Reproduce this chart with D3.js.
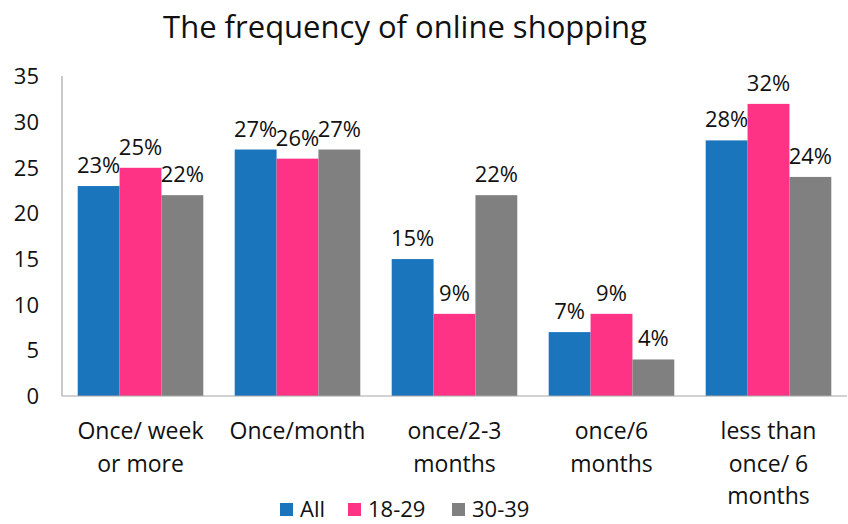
<!DOCTYPE html>
<html><head><meta charset="utf-8">
<script src="https://cdn.jsdelivr.net/npm/d3@7"></script>
<style>body{margin:0;background:#fff}svg{display:block}text{font-family:"Open Sans",sans-serif;fill:#111}</style>
</head><body><svg id="c" width="848" height="524"></svg>
<script>
const categories = [["Once/ week","or more"],["Once/month"],["once/2-3","months"],["once/6","months"],["less than","once/ 6","months"]];
const seriesNames = ["All","18-29","30-39"];
const seriesColors = ["#1b75bc","#fe3386","#808080"];
const valuesAll = [23,27,15,7,28];
const values1829 = [25,26,9,9,32];
const values3039 = [22,27,22,4,24];
const yTicks = [0,5,10,15,20,25,30,35];
const title = "The frequency of online shopping";

const series = [valuesAll, values1829, values3039];
const svg = d3.select("#c");
const x0 = d3.scaleBand().domain(d3.range(categories.length)).range([62,847]).paddingInner(0.2).paddingOuter(0.1);
const x = d3.scaleBand().domain(d3.range(3)).range([0, x0.bandwidth()]);
const y = d3.scaleLinear().domain([0,35]).range([396,76.5]);

svg.append("text").attr("x",405).attr("y",38).attr("text-anchor","middle").style("font-size","31px").text(title);

// y tick labels
svg.selectAll(".yt").data(yTicks).join("text").attr("x",39).attr("y",d=>y(d)).attr("dy","0.36em")
  .attr("text-anchor","end").style("font-size","22px").text(d=>d);

// bars
const g = svg.selectAll(".grp").data(categories).join("g").attr("transform",(d,i)=>`translate(${x0(i)},0)`);
series.forEach((vals,s)=>{
  g.append("rect").attr("x",x(s)).attr("width",x.bandwidth()).attr("y",(d,i)=>y(vals[i])).attr("height",(d,i)=>396-y(vals[i])).attr("fill",seriesColors[s]);
  g.append("text").attr("x",x(s)+x.bandwidth()/2).attr("y",(d,i)=>y(vals[i])-13).attr("text-anchor","middle").style("font-size","22px").text((d,i)=>vals[i]+"%");
});

// axes lines
svg.append("line").attr("x1",62).attr("x2",62).attr("y1",76).attr("y2",396).attr("stroke","#a6a6a6").attr("stroke-width",1.2);
svg.append("line").attr("x1",62).attr("x2",847).attr("y1",396).attr("y2",396).attr("stroke","#a6a6a6").attr("stroke-width",1.2);

// category labels
categories.forEach((lines,i)=>{
  const t = svg.append("text").attr("x",x0(i)+x0.bandwidth()/2).attr("y",439).attr("text-anchor","middle").style("font-size","23px");
  lines.forEach((l,j)=>t.append("tspan").attr("x",x0(i)+x0.bandwidth()/2).attr("dy",j?32.5:0).text(l));
});

// legend
const lx = [280,348,452];
seriesNames.forEach((n,i)=>{
  svg.append("rect").attr("x",lx[i]).attr("y",503).attr("width",13).attr("height",13).attr("fill",seriesColors[i]);
  svg.append("text").attr("x",lx[i]+20).attr("y",517).style("font-size","22px").text(n);
});
</script></body></html>
